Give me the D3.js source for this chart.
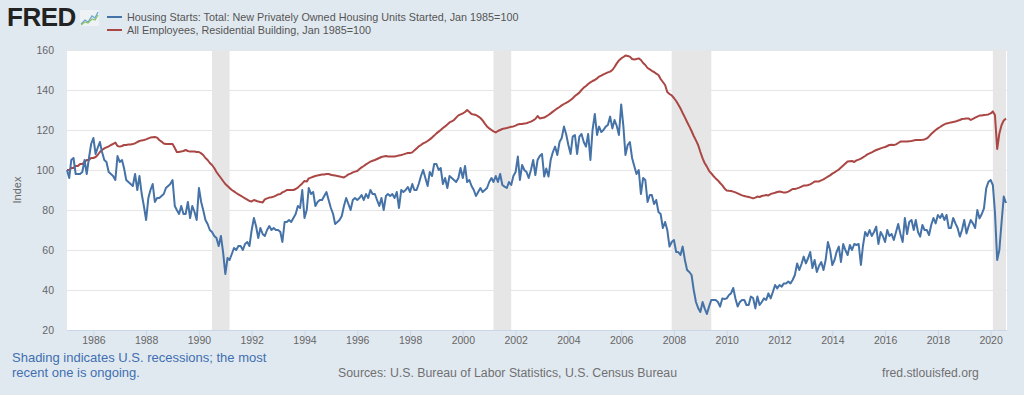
<!DOCTYPE html>
<html>
<head>
<meta charset="utf-8">
<script src="https://cdn.jsdelivr.net/npm/d3@7"></script>
<style>
  body { margin: 0; background: #e1e9f0; }
  svg { display: block; font-family: "Liberation Sans", Arial, sans-serif; }
</style>
</head>
<body>
<svg id="chart" width="1024" height="395"></svg>
<script>
// monthly values, first month Jan 1985
var firstMonth = new Date(1985, 0, 1);

// Housing Starts: Total, Jan 1985=100
var startsIndex = [
  100, 96, 105, 106, 98, 98, 98, 99, 105, 98, 106, 113,          // 1985
  116, 108, 111, 114, 109, 105, 104, 99, 98, 97, 95, 107,        // 1986
  104, 105, 101, 95, 94, 93, 92, 98, 90, 97, 88, 82,             // 1987
  75, 86, 90, 93, 84, 86, 86, 87, 88, 91, 92, 93,                // 1988
  95, 82, 80, 78, 82, 78, 78, 84, 76, 82, 79, 75,                // 1989
  91, 84, 80, 75, 73, 70, 69, 67, 66, 62, 67, 59,                // 1990
  48, 56, 55, 58, 61, 60, 62, 62, 60, 63, 64, 62,                // 1991
  70, 76, 72, 66, 71, 68, 67, 70, 72, 70, 71, 70,                // 1992
  70, 69, 64, 74, 74, 75, 74, 76, 78, 82, 81, 90,                // 1993
  76, 80, 91, 88, 89, 82, 84, 85, 85, 87, 89, 85,                // 1994
  81, 78, 73, 74, 75, 77, 82, 86, 83, 80, 85, 86,                // 1995
  85, 86, 87.5, 85, 88, 86, 90, 88, 88, 85, 82, 86,              // 1996
  80, 87, 88, 87, 88, 86, 89, 81, 90, 89, 90, 91.5,              // 1997
  89, 93, 90, 90, 93, 97, 100, 96, 92, 99, 97, 103,              // 1998
  103, 100, 101, 93, 96, 91, 97, 96, 95, 94, 96, 101,            // 1999
  96, 102, 94, 95, 92, 90, 87, 89, 91, 89, 90, 91,               // 2000
  94, 96, 94, 97, 94, 98, 92.5, 91.7, 91, 94, 92.5, 97,          // 2001
  99, 106.7, 95, 102.5, 100, 99, 96, 100, 105, 97.5, 105, 107,   // 2002
  108, 96.7, 100.8, 96.7, 105, 109, 111.7, 107.5, 114, 116, 121.7, 118, // 2003
  112.5, 108, 116.7, 117.5, 108, 116.7, 118, 114, 111.7, 118, 105, 120, // 2004
  128, 117.5, 121.7, 119, 120, 121.7, 122.5, 126.7, 120.8, 125, 122, 117.5, // 2005
  132.8, 121.7, 107.5, 112.5, 114, 106, 102, 98, 100, 88, 96, 95, // 2006
  84, 87.5, 87.5, 83, 85, 79, 78, 71, 74, 70, 61.7, 64,          // 2007
  65, 59, 59, 57.5, 61.7, 55, 50, 49, 47.5, 40, 34, 31,          // 2008
  29, 34, 30.8, 28, 31.7, 35, 35, 35, 34, 31.7, 35.8, 35.5,      // 2009
  35.8, 37.5, 38.3, 41, 35.8, 31.7, 34, 35, 35, 32.5, 32.5, 36.7, // 2010
  36, 30.8, 36.7, 32.5, 34, 35.8, 35, 38.3, 35.8, 39, 42.5, 40.8, // 2011
  42.5, 41.7, 43.3, 43.3, 44.2, 43.3, 45, 47.5, 53.3, 50, 53, 56.7, // 2012
  53.3, 56, 59, 51, 55, 49, 52, 54, 50, 55, 64, 60,              // 2013
  52.5, 55, 59, 61.7, 54, 63, 60, 57.5, 62.5, 60, 63, 62.5,      // 2014
  63, 52.5, 62, 69, 67, 70, 67, 69, 71.7, 63, 69, 67,            // 2015
  64, 70, 67, 68, 65, 69, 73, 68, 64, 76, 68, 74,                // 2016
  75, 70, 75, 69, 66.7, 72.5, 70, 70, 67.5, 72.5, 76, 73.3,      // 2017
  77.5, 76, 78, 75, 77.5, 71, 71, 76, 73.3, 71, 66.7, 70,        // 2018
  75, 68.3, 71.7, 75, 73.3, 71, 80, 75.8, 78, 80.8, 90.8, 94,    // 2019
  95, 92.5, 79, 55, 60, 74, 86.7, 83.5                           // 2020
];

// All Employees, Residential Building, Jan 1985=100
var employeesIndex = [
  100, 100, 101, 101, 102, 102, 103, 103, 104, 105, 105, 106,    // 1985
  106, 106.5, 107.5, 109, 110, 110.8, 111.3, 111.8, 112.5, 113, 113.7, 112, // 1986
  111.7, 112, 112.5, 112.5, 112.7, 112.8, 113, 113.3, 114, 114.5, 114.8, 115, // 1987
  115.3, 115.8, 116.2, 116.4, 116.5, 116.2, 115, 114.2, 113.2, 113, 113, 113, // 1988
  113, 111, 109, 109, 109.3, 109.5, 110, 109.5, 109.2, 109.3, 109.2, 109, // 1989
  109, 108.3, 107.5, 106, 105, 103.5, 102.5, 101, 99, 97.5, 96, 94.5, // 1990
  93, 92, 91, 90, 89.3, 88.5, 87.8, 87.2, 86.5, 85.8, 85.2, 84.5, // 1991
  84.3, 85, 84.6, 84.2, 84, 83.8, 85.3, 85.8, 86.2, 86.4, 86.7, 87.2, // 1992
  87.8, 88, 88.8, 89.3, 90, 90, 90, 90, 90.5, 91.2, 92.3, 93.3,  // 1993
  94.5, 94.2, 95.8, 96.2, 96.6, 97, 97.3, 97.5, 97.7, 97.8, 98, 98, // 1994
  97.6, 97.4, 97.2, 97, 96.8, 96.5, 96.3, 97, 97.8, 98.2, 98.8, 99.2, // 1995
  99.5, 100.5, 101.3, 102, 102.8, 103.5, 104.2, 104.6, 105, 105.5, 106, 106.5, // 1996
  106.8, 107, 106.8, 106.7, 106.7, 106.8, 107, 107.3, 107.5, 107.8, 108.2, 108.5, // 1997
  108.5, 108.8, 109.8, 110.8, 111.8, 112.5, 113.3, 113.8, 114.5, 115.3, 116.2, 117.2, // 1998
  118.3, 119.2, 120, 121, 121.8, 122.8, 123.8, 124.3, 125, 126.2, 127.3, 127.8, // 1999
  128.3, 129, 130, 129, 128, 127.7, 127.5, 126.8, 126, 124.8, 123.2, 121.8, // 2000
  120.8, 120, 119.3, 118.8, 119.5, 120, 120.5, 120.8, 121, 121.3, 121.6, 121.8, // 2001
  122.2, 122.8, 123, 123, 123.2, 123.4, 123.8, 124.2, 124.8, 125.5, 127, 125.8, // 2002
  126, 126.2, 126.8, 127.5, 128.3, 129.2, 130, 130.8, 131.5, 132.3, 133, 133.6, // 2003
  134.2, 135, 135.8, 137, 137.8, 138.7, 140, 141.2, 142, 143, 143.8, 144.5, // 2004
  145, 145.8, 146.7, 147.2, 147.8, 148.3, 148.8, 149.2, 150, 151.5, 153.3, 154.8, // 2005
  155.8, 156.5, 157.2, 157, 156.7, 155.5, 155.3, 155.5, 155.8, 155, 153.5, 152.5, // 2006
  151, 150.3, 149.6, 149, 148.2, 147.5, 145.5, 144, 142.5, 139, 138, 137.3, // 2007
  136, 134.5, 132.8, 130.8, 128.5, 126.3, 124, 121.8, 119.5, 117, 114.8, 112.5, // 2008
  109, 105.8, 103.5, 101.7, 99.6, 98.3, 97, 95.8, 94.8, 93.5, 92.3, 90.8, // 2009
  89.8, 89.6, 89.5, 89.2, 88.8, 88.3, 87.8, 87.3, 87, 86.7, 86.5, 86.2, // 2010
  85.8, 86.2, 86.7, 86.5, 87, 87.2, 87.5, 87.3, 88, 88.3, 88.6, 89, // 2011
  89.2, 89, 88.7, 88.8, 89.2, 89.8, 90.5, 90.5, 90.8, 91.2, 91.7, 92.2, // 2012
  92.2, 92.5, 92.8, 93.5, 94.2, 94.2, 94.3, 94.8, 95.3, 96, 96.7, 97.3, // 2013
  98.2, 98.8, 99.5, 100.2, 101.2, 102.2, 103.2, 104.2, 104.4, 104.5, 104, 104.8, // 2014
  105.2, 105.7, 106.3, 107, 107.8, 108.3, 108.8, 109.4, 110, 110.4, 110.8, 111.2, // 2015
  111.5, 112, 112.5, 112.6, 112.5, 112.8, 113.5, 114.2, 114.2, 114.2, 114.3, 114.4, // 2016
  114.5, 114.8, 115, 115, 115, 115.1, 115.3, 115.8, 116.8, 118, 119, 120, // 2017
  120.8, 121.5, 122.2, 122.8, 123.3, 123.5, 123.8, 124, 124.2, 124.6, 125, 125.5, // 2018
  125.6, 125.8, 125.8, 125, 125.6, 126.2, 126.7, 127.2, 127.3, 127.5, 127.6, 127.8, // 2019
  128.3, 129.3, 127.5, 110.5, 118.3, 122.5, 124.8, 125.8          // 2020
];

// recession periods [start, end] as "YYYY-MM"
var recessions = [["1990-07", "1991-03"], ["2001-03", "2001-11"], ["2007-12", "2009-06"], ["2020-02", "2020-08"]];
var yTicks = [20, 40, 60, 80, 100, 120, 140, 160];
var xTickYears = d3.range(1986, 2021, 2);
var legendLabels = [
  "Housing Starts: Total: New Privately Owned Housing Units Started, Jan 1985=100",
  "All Employees, Residential Building, Jan 1985=100"
];
var seriesColors = ["#4572a7", "#aa4643"];

var svg = d3.select("#chart");
// plot box (avoid the global name "top")
var pLeft = 67, pRight = 1007, pTop = 50, pBottom = 330;

function monthDate(i){ return d3.timeMonth.offset(firstMonth, i); }
var parseMonth = d3.timeParse("%Y-%m");

var lastDate = monthDate(startsIndex.length - 1);
var x = d3.scaleTime().domain([firstMonth, lastDate]).range([pLeft, pRight - 1]);
var y = d3.scaleLinear().domain([20, 160]).range([pBottom, pTop]);

// plot background
svg.append("rect").attr("x", pLeft).attr("y", pTop)
  .attr("width", pRight - pLeft).attr("height", pBottom - pTop).attr("fill", "#ffffff");

// recession shading
svg.append("g").selectAll("rect").data(recessions).join("rect")
  .attr("x", d => x(parseMonth(d[0])))
  .attr("y", pTop)
  .attr("width", d => Math.min(pRight, x(parseMonth(d[1]))) - x(parseMonth(d[0])))
  .attr("height", pBottom - pTop)
  .attr("fill", "#e6e6e6");

// grid
svg.append("g").selectAll("line").data(yTicks.filter(t => t > 20)).join("line")
  .attr("x1", pLeft).attr("x2", pRight)
  .attr("y1", d => Math.round(y(d)) + 0.5).attr("y2", d => Math.round(y(d)) + 0.5)
  .attr("stroke", "#e6e6e6").attr("stroke-width", 1);

// y labels
svg.append("g").selectAll("text").data(yTicks).join("text")
  .attr("x", 54).attr("y", d => y(d) + 4)
  .attr("text-anchor", "end")
  .attr("font-size", 10.5).attr("fill", "#666666")
  .text(d => d);

svg.append("text")
  .attr("transform", "translate(21," + ((pTop + pBottom) / 2) + ") rotate(-90)")
  .attr("text-anchor", "middle").attr("font-size", 11).attr("fill", "#666666")
  .text("Index");

// x axis
var xAxis = d3.axisBottom(x)
  .tickValues(xTickYears.map(yr => new Date(yr, 0, 1)))
  .tickFormat(d3.timeFormat("%Y"))
  .tickSize(8).tickSizeOuter(0);
var gx = svg.append("g").attr("transform", "translate(0," + pBottom + ")").call(xAxis);
gx.select(".domain").attr("stroke", "#ccd6eb").attr("d", "M" + pLeft + ",0.5H" + pRight);
gx.selectAll(".tick line").attr("stroke", "#ccd6eb");
gx.selectAll(".tick text").attr("font-size", 10.5).attr("fill", "#666666")
  .attr("font-family", "Liberation Sans, Arial, sans-serif").attr("dy", "0.9em").attr("y", 5);

// lines
var line = d3.line().x((d, i) => x(monthDate(i))).y(d => y(d));
svg.append("path").datum(employeesIndex).attr("d", line)
  .attr("fill", "none").attr("stroke", seriesColors[1]).attr("stroke-width", 2)
  .attr("stroke-linejoin", "round");
svg.append("path").datum(startsIndex).attr("d", line)
  .attr("fill", "none").attr("stroke", seriesColors[0]).attr("stroke-width", 2)
  .attr("stroke-linejoin", "round");

// FRED logo
svg.append("text").attr("x", 7).attr("y", 26)
  .attr("font-size", 26).attr("font-weight", "bold").attr("fill", "#222222")
  .attr("letter-spacing", "-0.5").text("FRED");
var logo = svg.append("g").attr("transform", "translate(80,10)");
logo.append("rect").attr("width", 19).attr("height", 16).attr("fill", "#eef2f5");
logo.append("path").attr("d", "M1,14 L5,10 L8,12 L12,6 L15,8 L18,2")
  .attr("fill", "none").attr("stroke", "#6fa8d0").attr("stroke-width", 1.3);
logo.append("path").attr("d", "M1,15 L5,12 L8,13 L12,9 L15,10 L18,5")
  .attr("fill", "none").attr("stroke", "#8cc06a").attr("stroke-width", 1.3);

// legend
var lg = svg.append("g").selectAll("g").data(legendLabels).join("g")
  .attr("transform", (d, i) => "translate(107," + (17 + i * 13) + ")");
lg.append("line").attr("x1", 0).attr("x2", 15).attr("y1", 0).attr("y2", 0)
  .attr("stroke", (d, i) => seriesColors[i]).attr("stroke-width", 2);
lg.append("text").attr("x", 20).attr("y", 4)
  .attr("font-size", 10.8).attr("fill", "#555555").text(d => d);

// notes
svg.append("text").attr("x", 12).attr("y", 362).attr("font-size", 13).attr("fill", "#3f6fb0")
  .text("Shading indicates U.S. recessions; the most");
svg.append("text").attr("x", 12).attr("y", 377).attr("font-size", 13).attr("fill", "#3f6fb0")
  .text("recent one is ongoing.");
svg.append("text").attr("x", 338).attr("y", 377).attr("font-size", 12.3).attr("fill", "#707070")
  .text("Sources: U.S. Bureau of Labor Statistics, U.S. Census Bureau");
svg.append("text").attr("x", 882).attr("y", 377).attr("font-size", 12.2).attr("fill", "#707070")
  .text("fred.stlouisfed.org");
</script>
</body>
</html>
